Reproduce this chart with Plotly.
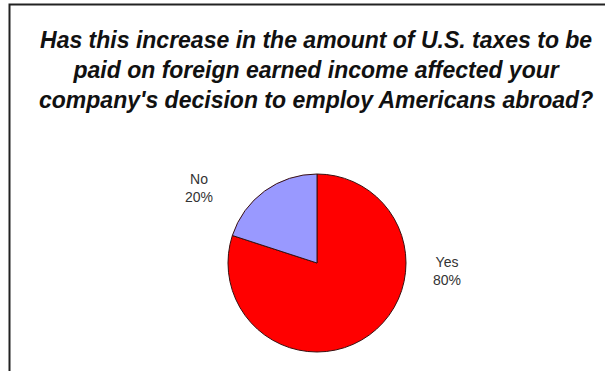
import plotly.graph_objects as go

# Survey answers
labels = ["Yes", "No"]
shares = [80, 20]
colors = ["#FF0000", "#9999FF"]

title_lines = [
    "Has this increase in the amount of U.S. taxes to be",
    "paid on foreign earned income affected your",
    "company's decision to employ Americans abroad?",
]

W, H = 605, 371
cx, cy, r = 317, 263, 89  # pie centre and radius in pixels


def px(x):
    return x / W


def py(y):
    return 1 - y / H


fig = go.Figure()
fig.add_trace(go.Pie(
    labels=labels,
    values=shares,
    sort=False,
    direction="clockwise",
    rotation=0,
    marker=dict(colors=colors, line=dict(color="#3a1010", width=1)),
    textinfo="none",
    hoverinfo="label+percent",
    showlegend=False,
    domain=dict(x=[px(cx - r), px(cx + r)], y=[py(cy + r), py(cy - r)]),
))

# slice labels
label_pos = {"No": (199, 188), "Yes": (447, 271)}
total = sum(shares)
for lab, val in zip(labels, shares):
    x, y = label_pos[lab]
    fig.add_annotation(
        x=px(x), y=py(y), xref="paper", yref="paper",
        xanchor="center", yanchor="middle",
        text=f"{lab}<br>{round(100 * val / total)}%",
        showarrow=False, align="center",
        font=dict(family="Liberation Sans, Arial", size=14, color="#333333"),
    )

# title
fig.add_annotation(
    x=px(316), y=py(70), xref="paper", yref="paper",
    xanchor="center", yanchor="middle",
    text="<b><i>" + "<br>".join(title_lines) + "</i></b>",
    showarrow=False, align="center",
    font=dict(family="Liberation Sans, Arial", size=23, color="#111111"),
)

# chart frame (runs past the right and bottom edges)
fig.add_shape(type="rect", xref="paper", yref="paper",
              x0=px(9.5), y0=py(4.5), x1=1.2, y1=-0.2,
              line=dict(color="#222222", width=2), fillcolor="rgba(0,0,0,0)")

fig.update_layout(
    width=W, height=H,
    margin=dict(l=0, r=0, t=0, b=0),
    paper_bgcolor="white",
    plot_bgcolor="white",
)

fig.write_html("out.html")
